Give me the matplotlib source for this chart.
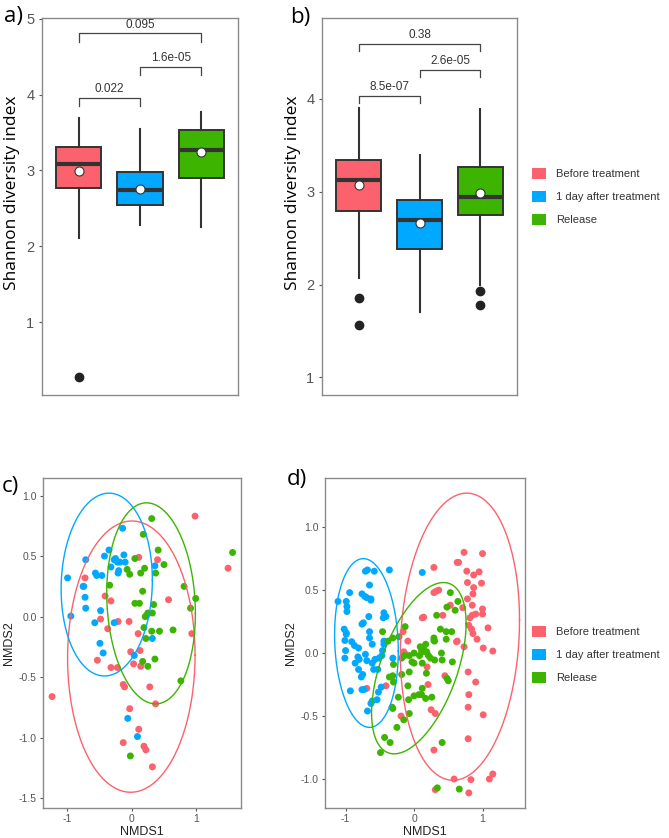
import numpy as np
import matplotlib
matplotlib.use("Agg")
import matplotlib.pyplot as plt
from matplotlib.patches import Patch

plt.rcParams['axes.unicode_minus'] = False
plt.rcParams['font.family'] = ['Liberation Sans', 'DejaVu Sans']

# ---------------- données ----------------
groupes = ["Before treatment", "1 day after treatment", "Release"]
couleurs = ["#FB626D", "#00A9FF", "#3DB400"]

# a) boxplot
a_med = [3.08, 2.74, 3.27]
a_q1 = [2.77, 2.55, 2.90]
a_q3 = [3.31, 2.98, 3.53]
a_lo = [2.11, 2.28, 2.25]
a_hi = [3.69, 3.55, 3.77]
a_mean = [2.99, 2.76, 3.24]
a_out = [[0.28], [], []]
a_pairs = [(1, 2), (2, 3), (1, 3)]
a_py = [3.96, 4.37, 4.81]
a_plab = ["0.022", "1.6e-05", "0.095"]

# b) boxplot
b_med = [3.13, 2.69, 2.94]
b_q1 = [2.79, 2.38, 2.75]
b_q3 = [3.34, 2.91, 3.27]
b_lo = [2.07, 1.70, 2.00]
b_hi = [3.90, 3.40, 3.89]
b_mean = [3.07, 2.66, 2.99]
b_out = [[1.85, 1.56], [], [1.93, 1.78]]
b_pairs = [(1, 2), (2, 3), (1, 3)]
b_py = [4.03, 4.31, 4.59]
b_plab = ["8.5e-07", "2.6e-05", "0.38"]

# c) NMDS
c_bx = [-0.99, -0.94, -0.71, -0.74, -0.75, -0.72, -0.71, -0.56, -0.54, -0.46, -0.48, -0.57,
        -0.49, -0.44, -0.42, -0.35, -0.32, -0.27, -0.25, -0.22, -0.21, -0.20, -0.18, -0.14,
        -0.12, -0.10, -0.27, 0.04, -0.06, 0.09, 0.36, 0.32]
c_by = [0.32, 0.005, 0.47, 0.25, 0.25, 0.16, 0.07, 0.36, 0.34, 0.34, 0.05, -0.05,
        -0.22, -0.30, 0.50, 0.55, 0.41, 0.47, 0.48, 0.45, 0.36, 0.38, 0.45, 0.73,
        0.51, 0.45, -0.05, -0.32, -0.84, -0.99, 0.42, -0.18]
c_rx = [-1.23, -0.72, -0.53, -0.48, -0.41, -0.37, -0.32, -0.32, -0.22, -0.21, -0.13, -0.11,
        -0.13, -0.04, -0.03, -0.015, 0.03, 0.10, 0.11, 0.11, 0.13, 0.14, 0.19, 0.22,
        0.32, 0.28, 0.40, 0.37, 0.57, 0.93, 0.98, 1.49]
c_ry = [-0.66, 0.32, -0.36, -0.02, 0.17, -0.10, 0.13, -0.42, -0.42, -0.04, -0.56, -0.58,
        -1.04, -0.04, -0.76, -0.29, -0.39, -0.14, -0.93, 0.49, -0.28, -0.41, -1.07, -1.10,
        -1.24, -0.58, 0.47, -0.72, 0.14, -0.14, 0.83, 0.40]
c_gx = [-0.34, -0.07, -0.03, 0.05, 0.05, 0.12, 0.14, 0.17, 0.18, 0.20, 0.19, 0.23,
        0.22, 0.25, 0.25, 0.32, 0.31, 0.31, 0.34, 0.17, 0.36, 0.37, 0.41, 0.43,
        0.50, 0.64, 0.81, 0.91, 0.99, 0.76, -0.02, 1.56, 0.21]
c_gy = [0.26, 0.39, 0.35, 0.48, 0.11, 0.11, 0.36, 0.21, 0.68, 0.40, -0.09, 0.01,
        -0.18, 0.03, -0.41, 0.03, 0.81, -0.12, 0.10, -0.37, -0.35, 0.36, 0.55, -0.12,
        0.43, -0.11, 0.25, 0.07, 0.15, -0.53, -1.15, 0.53, 0.00]
# ellipses : centre, demi-largeur, demi-hauteur, x du sommet
c_ell = {"cx": [-0.005, -0.385, 0.30], "cy": [-0.33, 0.265, 0.11],
         "A": [0.985, 0.705, 0.685], "B": [1.12, 0.755, 0.83], "xtop": [0.005, -0.35, 0.23]}

# d) NMDS
d_bx = [-0.71, -0.68, -0.58, -0.36, 0.12, -0.65, -0.94, -0.76, -0.72, -0.69, -0.63, -0.63,
        -1.11, -0.99, -0.98, -0.98, -0.44, -0.41, -0.45, -0.66, -0.76, -0.74, -1.02, -0.99,
        -0.99, -0.65, -1.01, -0.91, -0.65, -0.44,
        -1.00, -1.01, -0.87, -0.82, -0.86, -0.80, -0.71, -0.69, -0.61, -0.57, -0.51, -0.47,
        -0.31, -0.59, -0.53, -0.81, -0.75, -0.77, -0.93, -0.76, -0.73, -0.48, -0.52, -0.61,
        -0.63, -0.54, -0.68, -0.46, -0.44, -0.61, -0.81]
d_by = [0.65, 0.66, 0.65, 0.66, 0.64, 0.54, 0.48, 0.47, 0.45, 0.44, 0.43, 0.42,
        0.41, 0.41, 0.37, 0.33, 0.32, 0.29, 0.28, 0.29, 0.23, 0.24, 0.19, 0.16,
        0.15, 0.17, 0.10, 0.09, 0.12, 0.095,
        0.02, -0.04, 0.06, -0.03, -0.08, -0.05, -0.01, -0.06, -0.08, -0.05, -0.04, -0.02,
        -0.04, -0.13, -0.13, -0.13, -0.17, -0.19, -0.30, -0.29, -0.29, -0.27, -0.31, -0.38,
        -0.40, -0.37, -0.46, 0.02, 0.07, 0.07, 0.04]
d_rx = [0.73, 1.00, 0.65, 0.63, 0.29, 0.77, 0.87, 0.95, 0.78, 0.985, 0.87, 0.86,
        0.29, 0.32, 0.36, 0.53, 0.78, 0.71, 0.85, 1.00, 1.00, 0.90, 0.85, 0.815,
        0.80, 0.84, 0.86, 1.08, 0.42, 0.14, 0.63, 0.92,
        0.73, 1.01, 1.15, 0.79, 0.90, 0.80, 0.79, 1.01, 0.19, 0.205, 0.45, 0.25,
        0.31, 0.79, 0.29, 0.585, 0.83, 1.10, 1.15, 0.31, 0.80,
        -0.69, -0.41, -0.19, -0.14, -0.16, -0.09, 0.12, 0.62, -0.15]
d_ry = [0.80, 0.79, 0.72, 0.72, 0.68, 0.65, 0.62, 0.645, 0.56, 0.555, 0.52, 0.47,
        0.48, 0.49, 0.50, 0.38, 0.43, 0.36, 0.38, 0.35, 0.31, 0.31, 0.30, 0.28,
        0.22, 0.19, 0.155, 0.20, 0.30, 0.285, 0.095, 0.11,
        0.05, 0.04, 0.016, -0.15, -0.23, -0.33, -0.43, -0.49, -0.11, -0.25, -0.18, -0.45,
        -0.48, -0.68, -0.77, -1.00, -1.005, -1.00, -0.96, -1.085, -1.11,
        -0.28, -0.26, -0.50, 0.00, 0.17, 0.095, 0.28, 0.09, 0.01]
d_gx = [-0.18, -0.14, -0.07, 0.00, 0.00, -0.03, 0.08, 0.11, 0.12, -0.30, -0.31, -0.36,
        -0.18, -0.07, -0.09, -0.30, -0.23, -0.08, 0.00, 0.07, 0.11, 0.12, -0.32, -0.31,
        -0.15, -0.07, -0.25, -0.43, -0.35, -0.49,
        0.17, 0.14, 0.21, 0.24, 0.30, 0.40, 0.41, 0.56, 0.18, 0.50, 0.48, 0.17, 0.26,
        0.41, 0.34, 0.66,
        0.53, 0.64, 0.60, 0.48, 0.33, 0.385, 0.47, 0.55, 0.29, 0.30, 0.47,
        -0.46, -0.13, -0.22, -0.31, -0.38, 0.09, 0.14, 0.185, 0.29]
d_gy = [-0.04, -0.02, -0.02, 0.00, -0.08, -0.07, -0.02, 0.02, -0.08, -0.09, -0.18, -0.19,
        -0.17, -0.15, -0.26, -0.23, -0.35, -0.37, -0.34, -0.33, -0.33, -0.28, -0.43, -0.44,
        -0.53, -0.48, -0.59, -0.67, -0.71, -0.79,
        0.07, 0.01, -0.02, -0.04, -0.055, 0.00, -0.055, -0.07, -0.16, -0.22, -0.20, -0.36, -0.35,
        -0.71, -1.07, -1.08,
        0.48, 0.41, 0.34, 0.365, 0.30, 0.19, 0.17, 0.17, 0.12, 0.095, 0.11,
        0.17, 0.21, 0.13, 0.12, 0.095, 0.05, 0.03, 0.01, 0.10]
d_ell = {"cx": [0.67, -0.695, 0.07], "cy": [0.13, 0.08, -0.12],
         "A": [0.87, 0.465, 0.69], "B": [1.14, 0.67, 0.68], "xtop": [0.77, -0.74, 0.43]}

W, H = 669, 838
fig = plt.figure(figsize=(W / 100, H / 100), dpi=100)


def boite(l, t, r, b):
    return fig.add_axes([l / W, 1 - b / H, (r - l) / W, (b - t) / H])


def cadre(ax):
    for s in ax.spines.values():
        s.set_color("#8a8a8a")
        s.set_linewidth(1.0)
    ax.tick_params(colors="#555555", labelcolor="#555555", length=2.5, width=0.8, pad=2)


def boxplot(ax, med, q1, q3, lo, hi, moy, out, pairs, py, plab, ylim, yticks):
    stats = []
    for i in range(3):
        stats.append(dict(med=med[i], q1=q1[i], q3=q3[i], whislo=lo[i], whishi=hi[i],
                          mean=moy[i], fliers=out[i]))
    bp = ax.bxp(stats, positions=[1, 2, 3], widths=0.74, patch_artist=True, showmeans=True,
                showcaps=False,
                boxprops=dict(edgecolor="#333333", linewidth=1.4),
                whiskerprops=dict(color="#333333", linewidth=1.5),
                medianprops=dict(color="#333333", linewidth=3),
                meanprops=dict(marker="o", markerfacecolor="white", markeredgecolor="#333333",
                               markersize=6.5, markeredgewidth=0.8),
                flierprops=dict(marker="o", markerfacecolor="#222222", markeredgecolor="#222222",
                                markersize=6))
    for p, c in zip(bp["boxes"], couleurs):
        p.set_facecolor(c)
    d = 0.11 if ylim[0] < 0.5 else 0.08
    for (i, j), y, lab in zip(pairs, py, plab):
        ax.plot([i, i, j, j], [y - d, y, y, y - d], color="#444444", lw=0.9)
        ax.text((i + j) / 2, y + 0.03, lab, ha="center", va="bottom", fontsize=8.5, color="#333333")
    ax.set_xlim(0.4, 3.6)
    ax.set_ylim(*ylim)
    ax.set_yticks(yticks)
    ax.set_xticks([])
    cadre(ax)
    ax.tick_params(axis="y", labelsize=10.5, pad=3)
    ax.set_ylabel("Shannon diversity index", fontsize=12.5, family="Open Sans")
    ax.yaxis.set_label_coords(-0.11, 0.536)


def ellipse(cx, cy, A, B, xtop):
    phi = np.arccos((xtop - cx) / A)
    t = np.linspace(0, 2 * np.pi, 300)
    return cx + A * np.cos(t), cy + B * np.cos(t - phi)


def nmds(ax, pts, ell, xlim, ylim, yticks):
    for k, (x, y) in enumerate(pts):
        ax.scatter(x, y, s=25, color=couleurs[k], edgecolors="none", zorder=2)
        ex, ey = ellipse(ell["cx"][k], ell["cy"][k], ell["A"][k], ell["B"][k], ell["xtop"][k])
        ax.plot(ex, ey, color=couleurs[k], lw=1.0, zorder=3)
    ax.set_xlim(*xlim)
    ax.set_ylim(*ylim)
    ax.set_xticks([-1, 0, 1])
    ax.set_yticks(yticks)
    ax.set_yticklabels(["%.1f" % v for v in yticks])
    cadre(ax)
    ax.tick_params(labelsize=7.5)
    ax.set_xlabel("NMDS1", fontsize=9, color="#222222", labelpad=1)
    ax.set_ylabel("NMDS2", fontsize=9, color="#222222", labelpad=3)


ax_a = boite(42, 18, 238, 395)
boxplot(ax_a, a_med, a_q1, a_q3, a_lo, a_hi, a_mean, a_out, a_pairs, a_py, a_plab,
        (0.04, 5.01), [1, 2, 3, 4, 5])
ax_b = boite(322, 18, 517, 395)
boxplot(ax_b, b_med, b_q1, b_q3, b_lo, b_hi, b_mean, b_out, b_pairs, b_py, b_plab,
        (0.81, 4.87), [1, 2, 3, 4])

ax_c = boite(43, 478, 241, 808)
nmds(ax_c, [(c_rx, c_ry), (c_bx, c_by), (c_gx, c_gy)], c_ell, (-1.37, 1.69), (-1.58, 1.145),
     [-1.5, -1.0, -0.5, 0.0, 0.5, 1.0])
ax_d = boite(325, 478, 525, 808)
nmds(ax_d, [(d_rx, d_ry), (d_bx, d_by), (d_gx, d_gy)], d_ell, (-1.30, 1.62), (-1.23, 1.39),
     [-1.0, -0.5, 0.0, 0.5, 1.0])

# lettres des panneaux
for lab, x, y in [("a)", 4, 6), ("b)", 290, 7), ("c)", 2, 476), ("d)", 287, 469)]:
    fig.text(x / W, 1 - y / H, lab, fontsize=16, family="Open Sans", va="top", ha="left")

# légendes
poignees = [Patch(facecolor=c, edgecolor="none") for c in couleurs]
for ytop in [168, 626]:
    fig.legend(poignees, groupes, loc="upper left", bbox_to_anchor=(532 / W, 1 - ytop / H),
               frameon=False, fontsize=8, handlelength=1.25, handleheight=1.15,
               labelspacing=1.06, handletextpad=0.9, borderpad=0, borderaxespad=0,
               labelcolor="#333333")

fig.savefig("out.png", dpi=100)
